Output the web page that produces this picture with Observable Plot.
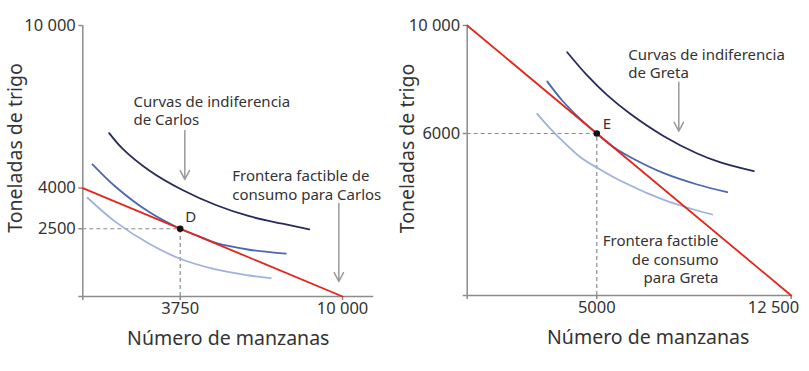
<!DOCTYPE html>
<html><head><meta charset="utf-8">
<script src="https://cdn.jsdelivr.net/npm/d3@7"></script>
<script src="https://cdn.jsdelivr.net/npm/@observablehq/plot@0.6"></script>
<style>
html,body{margin:0;padding:0;background:#fff;}
#wrap{width:809px;height:371px;display:flex;font-family:"Noto Sans",sans-serif;}
#wrap svg{display:block;}
</style></head><body><div id="wrap"></div>
<script>
// ---------- Carlos (left panel) ----------
const carlosXTicks = [3750, 10000];
const carlosXTickLabels = ["3750", "10 000"];
const carlosYTicks = [2500, 4000, 10000];
const carlosYTickLabels = ["2500", "4000", "10 000"];
const carlosFrontierX = [0, 10000];
const carlosFrontierY = [4000, 0];
const carlosPoint = [{x: 3750, y: 2500, label: "D"}];
const carlosDarkX = [1017, 1529, 2557, 3839, 5121, 6407, 7690, 8718];
const carlosDarkY = [6030, 5458, 4652, 3930, 3377, 2962, 2685, 2475];
const carlosMidX = [374, 1271, 2557, 3750, 4482, 5121, 6407, 7817];
const carlosMidY = [4873, 4039, 3114, 2500, 2220, 1975, 1725, 1579];
const carlosLightX = [181, 1271, 2557, 3750, 5121, 6407, 7239];
const carlosLightY = [3645, 2744, 1946, 1392, 997, 775, 676];

// ---------- Greta (right panel) ----------
const gretaXTicks = [5000, 12500];
const gretaXTickLabels = ["5000", "12 500"];
const gretaYTicks = [6000, 10000];
const gretaYTickLabels = ["6000", "10 000"];
const gretaFrontierX = [0, 12500];
const gretaFrontierY = [10000, 0];
const gretaPoint = [{x: 5000, y: 6000, label: "E"}];
const gretaDarkX = [3858, 4630, 5401, 6300, 7585, 8873, 9772, 11057];
const gretaDarkY = [9011, 8150, 7420, 6720, 5900, 5260, 4930, 4604];
const gretaMidX = [3086, 3665, 4371, 5000, 5656, 6300, 7585, 8873, 10031];
const gretaMidY = [7930, 7222, 6530, 6000, 5493, 5122, 4530, 4111, 3827];
const gretaLightX = [2701, 3214, 3727, 4371, 5077, 5656, 6300, 6944, 7585, 8229, 8873, 9452];
const gretaLightY = [6730, 6174, 5678, 5122, 4693, 4381, 4074, 3789, 3544, 3333, 3148, 3000];

const xTitle = "Número de manzanas";
const yTitle = "Toneladas de trigo";

// annotations (data coordinates)
const carlosNotes = [
  {x: 1952, y: 6868, text: "Curvas de indiferencia\nde Carlos"},
  {x: 5753, y: 4129, text: "Frontera factible de\nconsumo para Carlos"}
];
const carlosArrows = [
  {x1: 3928, y1: 6130, x2: 3928, y2: 4320},
  {x1: 9858, y1: 3434, x2: 9858, y2: 554}
];
const gretaNotesLeft = [{x: 6211, y: 8611, text: "Curvas de indiferencia\nde Greta"}];
const gretaNotesRight = [{x: 9695, y: 1359, text: "Frontera factible\nde consumo\npara Greta"}];
const gretaArrows = [{x1: 8164, y1: 7900, x2: 8164, y2: 6085}];

const zip = (xs, ys) => xs.map((x, i) => ({x, y: ys[i]}));

const C = {
  axis: "#8c8c8c", text: "#333333", red: "#e0261d",
  dark: "#272b5c", mid: "#4a67b0", light: "#9fb1dc", dash: "#8a8a8a", arrow: "#9a9a9a"
};
const FONT = "Noto Sans";

function panel(cfg) {
  const lbl = (ticks, labels) => d => labels[ticks.indexOf(d)] ?? "";
  return Plot.plot({
    width: cfg.width, height: 371,
    marginLeft: cfg.ml, marginRight: cfg.mr, marginTop: 25, marginBottom: cfg.mb,
    style: {fontFamily: FONT, background: "#fff"},
    x: {domain: cfg.xDomain, axis: null},
    y: {domain: [0, 10000], axis: null},
    marks: [
      // axis lines
      Plot.ruleY([0], {stroke: C.axis, strokeWidth: 1.5}),
      Plot.ruleX([0], {stroke: C.axis, strokeWidth: 1.5}),
      // tick marks
      Plot.axisX([0, ...cfg.xTicks], {tickSize: 4, tickFormat: () => "", stroke: C.axis, strokeWidth: 1.5}),
      Plot.axisY([0, ...cfg.yTicks], {tickSize: 4, tickFormat: () => "", stroke: C.axis, strokeWidth: 1.5}),
      // dashed guides
      Plot.ruleY(cfg.point, {y: "y", x1: () => 0, x2: "x", stroke: C.dash, strokeWidth: 1.2, strokeDasharray: "4,3"}),
      Plot.ruleX(cfg.point, {x: "x", y1: () => 0, y2: "y", stroke: C.dash, strokeWidth: 1.2, strokeDasharray: "4,3"}),
      // indifference curves
      Plot.line(zip(cfg.lightX, cfg.lightY), {x: "x", y: "y", stroke: C.light, strokeWidth: 1.8, curve: "catmull-rom"}),
      Plot.line(zip(cfg.midX, cfg.midY), {x: "x", y: "y", stroke: C.mid, strokeWidth: 1.8, curve: "catmull-rom"}),
      Plot.line(zip(cfg.darkX, cfg.darkY), {x: "x", y: "y", stroke: C.dark, strokeWidth: 1.8, curve: "catmull-rom"}),
      // frontier
      Plot.line(zip(cfg.fX, cfg.fY), {x: "x", y: "y", stroke: C.red, strokeWidth: 1.8}),
      // point
      Plot.dot(cfg.point, {x: "x", y: "y", r: 3.3, fill: "#111", stroke: null}),
      Plot.text(cfg.point, {x: "x", y: "y", text: "label", dx: cfg.pdx, dy: cfg.pdy, textAnchor: "start", fontSize: 15, fill: C.text}),
      // arrows
      Plot.arrow(cfg.arrows, {x1: "x1", y1: "y1", x2: "x2", y2: "y2", stroke: C.arrow, strokeWidth: 1.5, headLength: 10, headAngle: 55}),
      // notes
      Plot.text(cfg.notesStart, {x: "x", y: "y", text: "text", textAnchor: "start", lineAnchor: "middle", fontSize: 15, lineHeight: 1.22, fill: C.text}),
      Plot.text(cfg.notesEnd, {x: "x", y: "y", text: "text", textAnchor: "end", lineAnchor: "middle", fontSize: 15, lineHeight: 1.24, fill: C.text}),
      // tick labels
      Plot.text(cfg.yTicks, {y: d => d, frameAnchor: "left", textAnchor: "end", lineAnchor: "middle", dx: -7, text: lbl(cfg.yTicks, cfg.yLabels), fontSize: 16.5, fill: C.text}),
      Plot.text(cfg.xTicksMid, {x: d => d, frameAnchor: "bottom", textAnchor: "middle", lineAnchor: "top", dy: 6, text: lbl(cfg.xTicks, cfg.xLabels), fontSize: 16.5, fill: C.text}),
      Plot.text(cfg.xTicksEnd, {x: d => d, frameAnchor: "bottom", lineAnchor: "top", textAnchor: "end", dx: cfg.endDx, dy: 6, text: lbl(cfg.xTicks, cfg.xLabels), fontSize: 16.5, fill: C.text}),
      // titles
      Plot.text([xTitle], {frameAnchor: "bottom", textAnchor: "middle", lineAnchor: "middle", text: d => d, dx: cfg.xtDx, dy: 42, fontSize: 19.5, fill: C.text}),
      Plot.text([yTitle], {frameAnchor: "left", textAnchor: "middle", lineAnchor: "middle", text: d => d, rotate: -90, dx: cfg.ytDx, dy: cfg.ytDy, fontSize: 19.5, fill: C.text})
    ]
  });
}

const left = panel({
  width: 390, ml: 82.3, mr: 16.8, mb: 75, xDomain: [0, 11200],
  xTicks: carlosXTicks, xLabels: carlosXTickLabels, xTicksMid: carlosXTicks, xTicksEnd: [], endDx: 0,
  yTicks: carlosYTicks, yLabels: carlosYTickLabels,
  fX: carlosFrontierX, fY: carlosFrontierY, point: carlosPoint, pdx: 5, pdy: -12,
  darkX: carlosDarkX, darkY: carlosDarkY, midX: carlosMidX, midY: carlosMidY, lightX: carlosLightX, lightY: carlosLightY,
  arrows: carlosArrows, notesStart: carlosNotes, notesEnd: [],
  xtDx: 0, ytDx: -67, ytDy: -13
});
const right = panel({
  width: 419, ml: 76.7, mr: 18.3, mb: 76, xDomain: [0, 12500],
  xTicks: gretaXTicks, xLabels: gretaXTickLabels, xTicksMid: [5000], xTicksEnd: [12500], endDx: 8,
  yTicks: gretaYTicks, yLabels: gretaYTickLabels,
  fX: gretaFrontierX, fY: gretaFrontierY, point: gretaPoint, pdx: 6, pdy: -9,
  darkX: gretaDarkX, darkY: gretaDarkY, midX: gretaMidX, midY: gretaMidY, lightX: gretaLightX, lightY: gretaLightY,
  arrows: gretaArrows, notesStart: gretaNotesLeft, notesEnd: gretaNotesRight,
  xtDx: 19, ytDx: -59.7, ytDy: -12
});
document.getElementById("wrap").append(left, right);
</script>
</body></html>
